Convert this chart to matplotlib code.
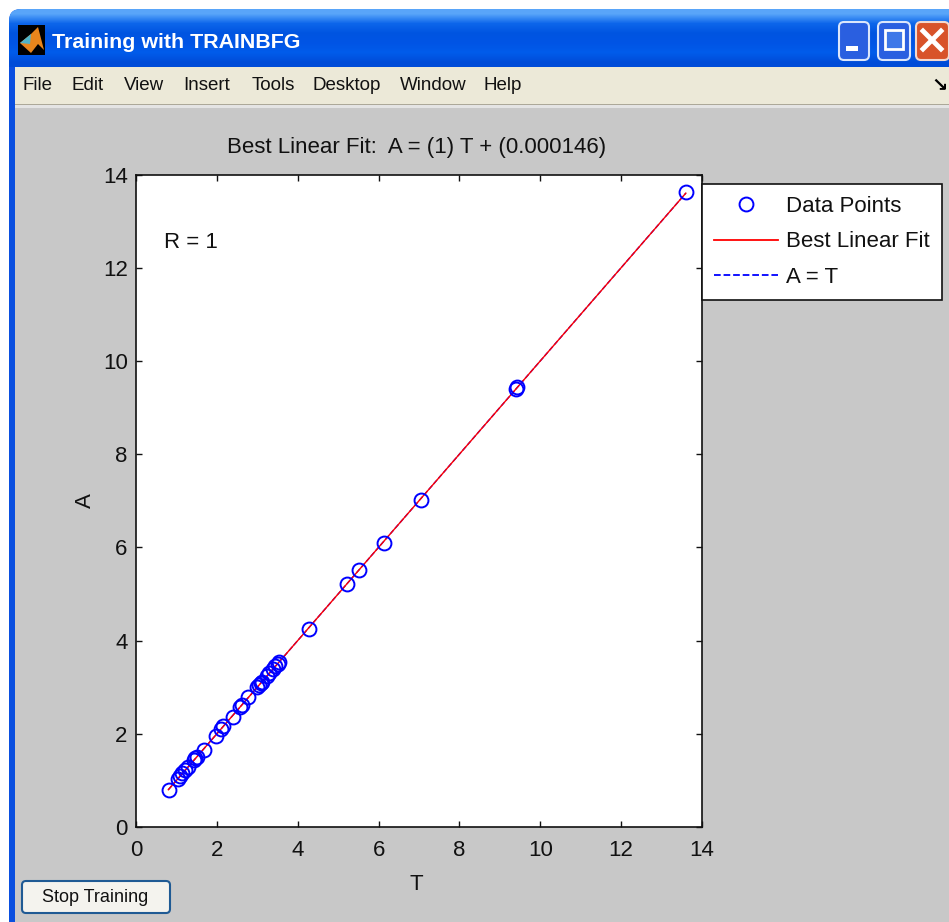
import numpy as np
import matplotlib
matplotlib.use("Agg")
import matplotlib.pyplot as plt
from matplotlib.patches import Rectangle, FancyBboxPatch, Polygon
from matplotlib.lines import Line2D

# Datos
T_puntos = [0.82, 1.03, 1.09, 1.15, 1.22, 1.29, 1.44, 1.47, 1.5, 1.68, 1.97, 2.1, 2.16, 2.4, 2.58, 2.62,
            2.78, 3.0, 3.05, 3.09, 3.12, 3.23, 3.3, 3.4, 3.45, 3.5, 3.53, 4.27, 5.22, 5.52, 6.13, 7.05,
            9.4, 9.43, 13.6]
A_puntos = [0.79, 1.03, 1.09, 1.15, 1.22, 1.29, 1.44, 1.47, 1.5, 1.66, 1.95, 2.1, 2.16, 2.36, 2.58, 2.62,
            2.78, 3.0, 3.05, 3.09, 3.12, 3.23, 3.3, 3.4, 3.45, 3.5, 3.53, 4.24, 5.22, 5.52, 6.1, 7.02,
            9.4, 9.43, 13.62]
T_recta = [0.8, 13.6]
A_ajuste = [0.8, 13.6]
A_igual_T = [0.8, 13.6]
ticks = [0, 2, 4, 6, 8, 10, 12, 14]
menus = ["File", "Edit", "View", "Insert", "Tools", "Desktop", "Window", "Help"]
menus_x = [23, 72, 124, 183, 252, 313, 400, 484]

W, H = 949, 922
GRIS = "#c8c8c8"
plt.rcParams["font.family"] = ["Liberation Sans", "DejaVu Sans"]

fig = plt.figure(figsize=(W / 100, H / 100), dpi=100, facecolor="white")

# Ventana de fondo en coordenadas de pixel
bg = fig.add_axes([0, 0, 1, 1], zorder=0)
bg.set_xlim(0, W)
bg.set_ylim(H, 0)
bg.axis("off")

marco = FancyBboxPatch((9, 9), W + 30, H + 30, boxstyle="round,pad=0,rounding_size=12",
                       fc="#0a4fe0", ec="none", zorder=0)
bg.add_patch(marco)
grad = np.array([[0.35, 0.65, 0.98], [0.05, 0.40, 0.92], [0.0, 0.33, 0.88], [0.0, 0.33, 0.90],
                 [0.0, 0.36, 0.92], [0.0, 0.30, 0.85]]).reshape(6, 1, 3)
im = bg.imshow(grad, extent=(9, W, 67, 9), aspect="auto", interpolation="bilinear", zorder=0.5)
im.set_clip_path(marco)
bg.set_xlim(0, W)
bg.set_ylim(H, 0)
bg.add_patch(Rectangle((15, 67), W, H, fc=GRIS, ec="none"))
bg.add_patch(Rectangle((15, 67), W, 37, fc="#ece9d8", ec="none"))
bg.add_patch(Rectangle((15, 104), W, 1.5, fc="#aca899", ec="none"))
bg.add_patch(Rectangle((15, 105.5), W, 2.5, fc="#e4e4e4", ec="none"))

# Icono de matlab
bg.add_patch(Rectangle((18, 25), 27, 30, fc="black", ec="none", zorder=2))
bg.add_patch(Polygon([[20, 43], [31, 34], [38, 27], [44, 50], [38, 44], [31, 53]], fc="#e8851c", ec="none", zorder=2))
bg.add_patch(Polygon([[20, 43], [31, 34], [30, 44]], fc="#4fb3c8", ec="none", zorder=2))

bg.text(52, 42, "Training with TRAINBFG", color="white", fontsize=15.4, fontweight="bold",
        va="center", ha="left", zorder=3)

for nombre, x in zip(menus, menus_x):
    bg.text(x, 85, nombre, color="#111111", fontsize=13.5, va="center", ha="left")
bg.text(940, 86, "↘", color="black", fontsize=14, fontweight="bold", va="center", ha="center",
        family="DejaVu Sans")

# Botones de la ventana
bg.add_patch(FancyBboxPatch((839, 22), 30, 38, boxstyle="round,pad=0,rounding_size=5",
                            fc="#2a5fe0", ec="#dbe6fb", lw=1.5, zorder=2))
bg.add_patch(Rectangle((846, 46), 12, 5, fc="white", ec="none", zorder=3))
bg.add_patch(FancyBboxPatch((878, 22), 32, 38, boxstyle="round,pad=0,rounding_size=5",
                            fc="#2a5fe0", ec="#dbe6fb", lw=1.5, zorder=2))
bg.add_patch(Rectangle((885, 30), 18, 19, fc="#3f78e8", ec="white", lw=2, zorder=3))
bg.add_patch(FancyBboxPatch((916, 22), 33, 38, boxstyle="round,pad=0,rounding_size=5",
                            fc="#d8532a", ec="#f3d9cf", lw=1.5, zorder=2))
bg.plot([923, 941], [31, 49], color="white", lw=3.5, zorder=3)
bg.plot([941, 923], [31, 49], color="white", lw=3.5, zorder=3)

# Boton de parar
bg.add_patch(FancyBboxPatch((22, 881), 148, 32, boxstyle="round,pad=0,rounding_size=4",
                            fc="#f4f3ee", ec="#1f5a94", lw=1.5))
bg.text(95, 897, "Stop Training", color="#111111", fontsize=13, va="center", ha="center")

# Grafica principal
ax = fig.add_axes([136 / W, 1 - 827 / H, (702 - 136) / W, (827 - 174.5) / H], zorder=2)
ax.plot(T_recta, A_igual_T, color="blue", linestyle="--", lw=1)
ax.plot(T_recta, A_ajuste, color="red", lw=1)
ax.plot(T_puntos, A_puntos, linestyle="none", marker="o", ms=10, mfc="none", mec="blue", mew=1.4)

ax.set_xlim(0, 14)
ax.set_ylim(0, 14)
ax.set_xticks(ticks)
ax.set_yticks(ticks)
ax.tick_params(direction="in", top=True, right=True, length=4, width=1, labelsize=16, colors="#111111")
ax.tick_params(axis="x", pad=9)
ax.tick_params(axis="y", pad=6)
for s in ax.spines.values():
    s.set_linewidth(1.2)
    s.set_color("#111111")

ax.set_title("Best Linear Fit:  A = (1) T + (0.000146)", fontsize=16, x=0.495, pad=15.5, color="#111111")
ax.set_xlabel("T", fontsize=16, x=0.495, labelpad=10, color="#111111")
ax.set_ylabel("A", fontsize=16, labelpad=4.6, color="#111111")
ax.text(0.69, 12.55, "R = 1", fontsize=16, va="center", ha="left", color="#111111")

# Leyenda
handles = [Line2D([], [], linestyle="none", marker="o", ms=10, mfc="none", mec="blue", mew=1.4),
           Line2D([], [], color="red", lw=1.3),
           Line2D([], [], color="blue", lw=1.3, linestyle="--")]
etiquetas = ["Data Points", "Best Linear Fit", "A = T"]
leg = fig.legend(handles, etiquetas, loc="upper left", bbox_to_anchor=(702 / W, 1 - 184 / H),
                 borderaxespad=0, fontsize=16, frameon=True, fancybox=False, framealpha=1,
                 edgecolor="#111111", handlelength=2.85, handletextpad=0.36, labelspacing=0.64,
                 borderpad=0.55, labelcolor="#111111")
leg.get_frame().set_linewidth(1.2)
leg.set_zorder(5)

fig.savefig("out.png", dpi=100, facecolor="white")
